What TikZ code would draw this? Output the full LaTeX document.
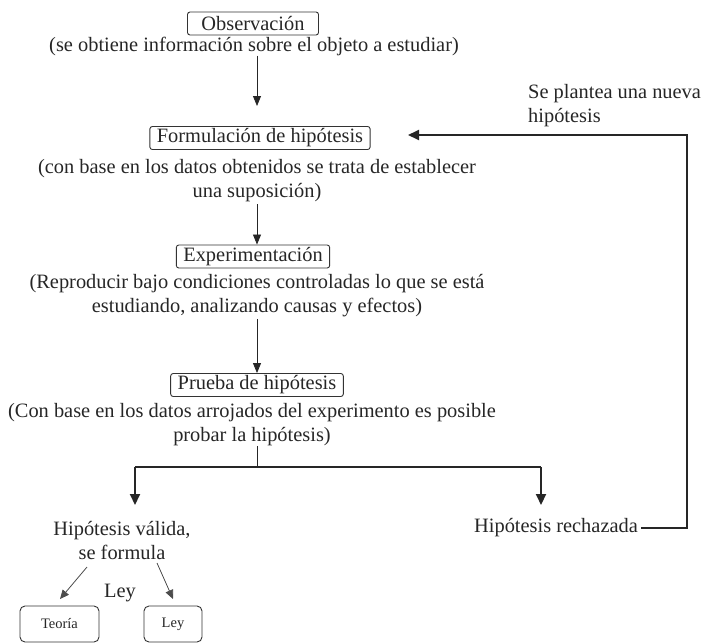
\documentclass[tikz,border=0pt]{standalone}
\usepackage{fontspec}
\setmainfont{Liberation Serif}
\usetikzlibrary{arrows.meta}
\begin{document}
\begin{tikzpicture}[x=1pt,y=-1pt,
  every node/.style={font=\fontsize{20.4}{24}\selectfont, inner sep=0pt, text=black!85},
  box/.style={draw=black!80, rounded corners=2.5pt, line width=0.9pt, inner xsep=7pt, minimum height=23pt},
  txt/.style={align=center},
  sbox/.style={draw=black!80, rounded corners=5pt, line width=0.9pt, font=\fontsize{14.5}{16}\selectfont, minimum height=36pt},
  arr/.style={-{Triangle[length=10pt,width=8pt]}, line width=0.8pt, black!85},
  thk/.style={line width=2pt, black!85},
  thkarr/.style={-{Triangle[length=11pt,width=10pt]}, line width=2pt, black!85},
  sarr/.style={-{Triangle[length=9pt,width=8pt]}, line width=0.8pt, black!70}
]
\useasboundingbox (0,0) rectangle (708,642);

\coordinate (col) at (257,0);

\node[box, minimum width=131pt] (obs) at (253,23.5) {Observación};
\node[txt] (obst) at (254,46) {(se obtiene información sobre el objeto a estudiar)};

\node[align=left, anchor=west] (nueva) at (528,106) {Se plantea una nueva\\hipótesis};

\node[box] (form) at (260,138) {Formulación de hipótesis};
\node[txt] (formt) at (257,181) {(con base en los datos obtenidos se trata de establecer\\una suposición)};

\node[box] (exp) at (253,256.5) {Experimentación};
\node[txt] (expt) at (257,295.5) {(Reproducir bajo condiciones controladas lo que se está\\estudiando, analizando causas y efectos)};

\node[box] (pru) at (257,385) {Prueba de hipótesis};
\node[txt] (prut) at (252,424.5) {(Con base en los datos arrojados del experimento es posible\\probar la hipótesis)};

\node[txt] (val) at (122,540.5) {Hipótesis válida,\\se formula};
\node (rej) at (556,528) {Hipótesis rechazada};

\node (leyt) at (120,593) {Ley};
\node[sbox, minimum width=79pt] (teo) at (59.5,624) {Teoría};
\node[sbox, minimum width=58pt] (ley) at (173,624) {Ley};

% main arrows
\coordinate (a1) at (257,106);
\draw[arr] (obst.south -| col) -- (a1);
\draw[arr] (formt.south -| col) ++(0,2) -- (exp.north -| col);
\draw[arr] (expt.south -| col) ++(0,2) -- (pru.north -| col);

% branch
\coordinate (bl) at (135,467);
\coordinate (br) at (541,467);
\coordinate (tl) at (135,505);
\coordinate (tr) at (541,505);
\draw[line width=0.8pt, black!85] (prut.south -| col) -- (col |- bl);
\draw[thk] (bl) -- (br);
\draw[thkarr] (bl) -- (tl);
\draw[thkarr] (br) -- (tr);

% feedback
\coordinate (fc) at (687,135);
\coordinate (ftip) at (408,135);
\draw[thk, -{Triangle[length=11pt,width=10pt]}] (rej.east) ++(3,0) -| (fc) -- (ftip);

% small arrows
\coordinate (s1) at (87,567);
\coordinate (s2) at (157,563);
\coordinate (t1) at (60,599);
\coordinate (t2) at (173,599);
\draw[sarr] (s1) -- (t1);
\draw[sarr] (s2) -- (t2);
\end{tikzpicture}
\end{document}
